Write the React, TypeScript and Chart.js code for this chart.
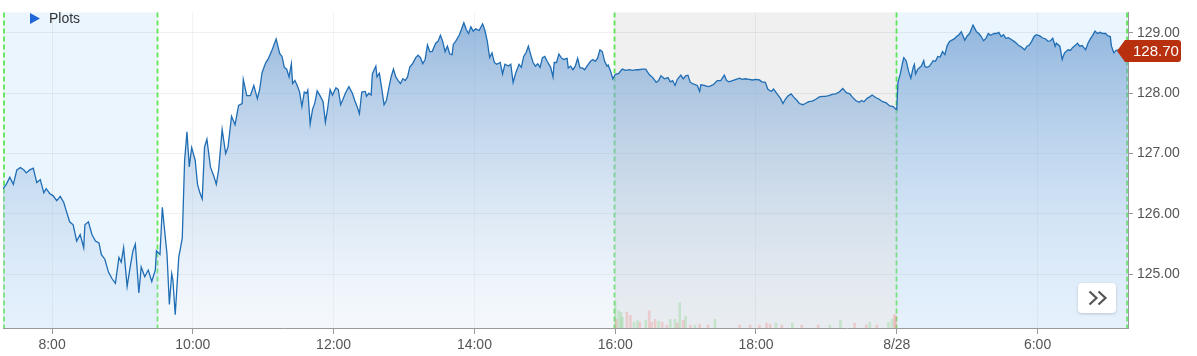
import React, { useEffect, useRef } from "react";
import { Chart, registerables } from "chart.js";

Chart.register(...registerables);

// Time axis in minutes; 8/28 pre-market continues right after 20:00 (1200 = 8/28 4:00)
const minutes = [
  // 8/27 pre-market and open
  438, 441, 444, 447, 450, 453, 456, 458, 461, 464,
  467, 470, 473, 475, 478, 481, 484, 487, 490, 492,
  495, 498, 501, 504, 507, 508, 511, 514, 517, 520,
  522, 525, 528, 531, 534, 537, 539, 541, 544, 547,
  549, 551, 554, 556, 559, 562, 565, 568, 569, 572,
  574, 578, 580, 582, 583, 585, 588, 591, 593, 595,
  597, 599, 602, 604, 606, 608, 610, 612, 615, 618,
  620, 622, 625, 628, 630, 633, 636, 639, 642, 643,
  646, 649, 652, 655, 657, 659, 662, 664, 667, 671,
  674,
  // midday
  676, 678, 680, 682, 684, 685, 687, 689, 691, 693,
  695, 697, 698, 700, 702, 704, 706, 709, 711, 713,
  715, 717, 719, 722, 724, 726, 728, 730, 733, 736,
  738, 740, 742, 744, 747, 748, 750, 752, 753, 756,
  757, 759, 761, 763, 765, 767, 769, 771, 773, 775,
  777, 779, 781, 783, 785, 787, 790, 792, 794, 796,
  798, 800, 802, 804, 807, 809, 811, 813, 815, 817,
  819, 821, 822, 824, 827, 829, 831, 833, 835, 837,
  839, 841, 844, 847, 849, 851, 853, 855, 857, 859,
  862, 864, 866, 869, 871, 873, 875, 878, 880, 882,
  884, 886, 888, 890, 892, 894, 896, 898, 900, 902,
  905, 907, 908, 910, 912, 914,
  // close and after hours
  916, 919, 920, 922, 924, 926, 928, 930, 932, 934,
  936, 939, 941, 943, 945, 947, 949, 951, 953, 954,
  956, 958, 960, 963, 966, 969, 972, 975, 978, 980,
  983, 986, 989, 992, 995, 997, 999, 1002, 1005, 1007,
  1009, 1011, 1013, 1016, 1018, 1020, 1022, 1024, 1027, 1030,
  1032, 1033, 1036, 1039, 1041, 1044, 1047, 1050, 1053, 1055,
  1057, 1060, 1063, 1066, 1068, 1071, 1074, 1077, 1080, 1083,
  1085, 1088, 1090, 1093, 1095, 1098, 1101, 1103, 1105, 1107,
  1110, 1112, 1115, 1117, 1120, 1122, 1125, 1128, 1131, 1134,
  1137, 1139, 1142, 1145, 1148, 1151, 1154, 1157,
  // late after hours and 8/28 pre-market
  1160, 1162, 1165, 1168, 1170, 1172, 1175, 1177, 1179, 1182,
  1185, 1188, 1191, 1194, 1197, 1199, 1200, 1201, 1203, 1205,
  1206, 1208, 1210, 1212, 1214, 1215, 1216, 1218, 1221, 1223,
  1224, 1226, 1228, 1231, 1233, 1235, 1237, 1239, 1241, 1243,
  1245, 1247, 1249, 1251, 1253, 1255, 1258, 1260, 1262, 1264,
  1265, 1268, 1270, 1272, 1274, 1276, 1278, 1280, 1283, 1285,
  1287, 1289, 1291, 1293, 1295, 1297, 1300, 1302, 1304, 1306,
  1309, 1311, 1313, 1315, 1317, 1319, 1322, 1324, 1327, 1329,
  1331, 1333, 1335, 1336, 1339, 1341, 1343, 1346, 1348, 1350,
  1352, 1354, 1356, 1358, 1361, 1363, 1365, 1367, 1369, 1371,
  1373, 1376, 1378, 1380, 1382, 1383, 1385, 1387, 1389, 1392,
  1397,
];

const prices = [
  126.41, 126.49, 126.61, 126.49, 126.73, 126.77, 126.73, 126.68, 126.73, 126.76,
  126.52, 126.57, 126.35, 126.42, 126.34, 126.30, 126.22, 126.29, 126.19, 126.06,
  125.87, 125.82, 125.55, 125.66, 125.44, 125.82, 125.87, 125.66, 125.55, 125.52,
  125.33, 125.25, 125.04, 124.93, 124.85, 125.28, 125.20, 125.44, 124.80, 125.17,
  125.39, 125.50, 124.69, 125.12, 124.96, 125.07, 124.88, 125.07, 125.39, 125.33,
  126.11, 125.33, 124.50, 125.01, 124.91, 124.33, 125.28, 125.60, 126.89, 127.36,
  126.78, 127.10, 126.89, 126.49, 126.35, 126.25, 127.11, 127.24, 126.78, 126.62,
  126.49, 126.73, 127.40, 127.00, 127.11, 127.62, 127.48, 127.80, 127.83, 128.23,
  127.96, 127.96, 128.13, 127.91, 128.07, 128.34, 128.50, 128.56, 128.69, 128.90,
  128.66,

  128.61, 128.43, 128.40, 128.27, 128.49, 128.16, 128.21, 128.13, 128.02, 127.78,
  128.02, 128.00, 128.05, 127.49, 127.73, 127.84, 128.04, 127.94, 127.86, 127.52,
  127.76, 128.06, 127.97, 128.09, 128.06, 127.81, 127.90, 128.00, 128.11, 128.00,
  127.88, 127.78, 127.66, 128.02, 128.03, 127.95, 128.00, 127.97, 128.32, 128.45,
  128.27, 128.33, 128.08, 127.81, 127.88, 128.08, 128.27, 128.40, 128.27, 128.21,
  128.16, 128.24, 128.21, 128.27, 128.44, 128.48, 128.59, 128.63, 128.59, 128.49,
  128.56, 128.80, 128.69, 128.69, 128.83, 128.86, 128.96, 128.86, 128.69, 128.78,
  128.65, 128.64, 128.81, 128.86, 128.96, 129.06, 129.17, 129.06, 128.99, 129.10,
  129.03, 129.07, 129.04, 129.15, 129.04, 128.86, 128.59, 128.67, 128.51, 128.48,
  128.51, 128.32, 128.48, 128.45, 128.48, 128.18, 128.32, 128.48, 128.43, 128.61,
  128.67, 128.78, 128.64, 128.51, 128.45, 128.49, 128.43, 128.59, 128.61, 128.53,
  128.43, 128.27, 128.51, 128.51, 128.65, 128.59,

  128.56, 128.58, 128.42, 128.45, 128.39, 128.45, 128.58, 128.42, 128.42, 128.39,
  128.45, 128.53, 128.56, 128.53, 128.58, 128.72, 128.69, 128.53, 128.45, 128.47,
  128.37, 128.24, 128.31, 128.33, 128.40, 128.38, 128.39, 128.38, 128.39, 128.39,
  128.40, 128.40, 128.31, 128.26, 128.18, 128.21, 128.29, 128.24, 128.26, 128.19,
  128.21, 128.13, 128.23, 128.30, 128.24, 128.29, 128.30, 128.18, 128.15, 128.13,
  128.03, 128.14, 128.13, 128.11, 128.12, 128.15, 128.21, 128.21, 128.30, 128.21,
  128.19, 128.21, 128.23, 128.25, 128.23, 128.24, 128.23, 128.22, 128.23, 128.22,
  128.19, 128.18, 128.07, 128.03, 128.07, 127.99, 127.91, 127.83, 127.90, 127.95,
  127.99, 127.94, 127.88, 127.83, 127.81, 127.83, 127.86, 127.87, 127.90, 127.94,
  127.95, 127.95, 127.96, 127.98, 127.99, 128.02, 128.08, 128.01,

  127.99, 127.94, 127.88, 127.85, 127.88, 127.86, 127.92, 127.94, 127.97, 127.93,
  127.90, 127.86, 127.84, 127.79, 127.78, 127.74, 127.73, 128.18, 128.32, 128.51,
  128.59, 128.54, 128.37, 128.25, 128.43, 128.48, 128.32, 128.40, 128.45, 128.54,
  128.44, 128.43, 128.45, 128.54, 128.53, 128.61, 128.60, 128.69, 128.64, 128.79,
  128.86, 128.88, 128.90, 128.94, 128.97, 129.02, 128.88, 128.95, 128.99, 129.08,
  129.13, 129.02, 128.99, 128.94, 128.87, 128.91, 128.99, 128.96, 128.99, 128.99,
  129.01, 128.94, 128.97, 128.91, 128.92, 128.90, 128.86, 128.83, 128.79, 128.77,
  128.72, 128.78, 128.80, 128.86, 128.94, 128.97, 128.95, 128.92, 128.90, 128.86,
  128.87, 128.91, 128.78, 128.83, 128.78, 128.56, 128.67, 128.72, 128.71, 128.76,
  128.79, 128.83, 128.78, 128.79, 128.72, 128.83, 128.90, 128.96, 129.03, 128.99,
  129.01, 128.99, 128.99, 128.95, 128.94, 128.78, 128.67, 128.71, 128.72, 128.74,
  128.70,
];

// Extended-hours volume (hundreds of shares)
const volMinutes = [
  960, 961, 963, 965, 966, 970, 973, 976, 979, 981,
  986, 989, 991, 994, 997, 1000, 1004, 1007, 1011, 1013,
  1015, 1018, 1020, 1024, 1028, 1032, 1039, 1045, 1066, 1075,
  1083, 1089, 1092, 1097, 1102, 1111, 1119, 1133, 1143, 1152,
  1164, 1174, 1177, 1183, 1193, 1196, 1198, 1199,
];
const volumes = [
  26, 9, 18, 16, 11, 16, 13, 6, 8, 6,
  8, 18, 6, 9, 7, 6, 3, 9, 9, 5,
  26, 8, 12, 3, 3, 4, 3, 9, 3, 3,
  3, 5, 4, 5, 3, 5, 3, 3, 3, 8,
  5, 3, 6, 3, 6, 9, 14, 12,
];
const volUp = [
  true, false, true, true, true, false, false, true, true, false,
  true, false, false, false, true, false, false, true, true, false,
  true, false, true, false, true, false, false, true, false, false,
  false, false, false, true, false, true, false, false, true, true,
  false, false, true, false, true, true, false, false,
];

const xTickMinutes = [480, 600, 720, 840, 960, 1080, 1200, 1320];
const xTickLabels = ["8:00", "10:00", "12:00", "14:00", "16:00", "18:00", "8/28", "6:00"];
const yTickValues = [125, 126, 127, 128, 129];
const sessionBreaks = [570, 960, 1200]; // 9:30 open, 16:00 close, 8/28 pre-market
const xRange = [438.2, 1397.1];
const yRange = [124.11, 129.34];
const volumeMax = 324;
const lastPrice = 128.7;
const legendLabel = "Plots";

const FONT = "'Liberation Sans', Arial, Helvetica, sans-serif";

export default function App() {
  const ref = useRef<HTMLCanvasElement>(null);

  useEffect(() => {
    document.body.style.margin = "0";
    const canvas = ref.current;
    if (!canvas) return;

    const decor = {
      id: "decor",
      beforeDraw(chart: any) {
        const { ctx, chartArea: a, scales } = chart;
        const x = scales.x;
        ctx.save();
        const band = (from: number, to: number, color: string) => {
          const x0 = Math.max(a.left, x.getPixelForValue(from));
          const x1 = Math.min(a.right, x.getPixelForValue(to));
          ctx.fillStyle = color;
          ctx.fillRect(x0, a.top, x1 - x0, a.bottom - a.top);
        };
        band(xRange[0], sessionBreaks[0], "#ebf5fe");
        band(sessionBreaks[1], sessionBreaks[2], "#f0f0f0");
        band(sessionBreaks[2], xRange[1], "#ebf5fe");
        ctx.restore();
      },
      beforeDatasetsDraw(chart: any) {
        const { ctx, chartArea: a, scales } = chart;
        const x = scales.x;
        ctx.save();
        ctx.strokeStyle = "#5ee655";
        ctx.lineWidth = 1.8;
        ctx.setLineDash([5, 3]);
        const xs = [a.left + 1, ...sessionBreaks.map((m) => Math.round(x.getPixelForValue(m)) - 0.5), a.right - 1];
        xs.forEach((px) => {
          ctx.beginPath();
          ctx.moveTo(px, a.top);
          ctx.lineTo(px, a.bottom);
          ctx.stroke();
        });
        ctx.restore();
      },
      afterDraw(chart: any) {
        const { ctx, chartArea: a, scales } = chart;
        const y = scales.y;
        ctx.save();
        // price tag
        const py = y.getPixelForValue(lastPrice);
        const tip = a.right - 11;
        const left = a.right - 3;
        const right = a.right + 53;
        const h = 22;
        const r = 3;
        ctx.fillStyle = "#b8300e";
        ctx.beginPath();
        ctx.moveTo(tip, py);
        ctx.lineTo(left, py - h / 2);
        ctx.lineTo(right - r, py - h / 2);
        ctx.quadraticCurveTo(right, py - h / 2, right, py - h / 2 + r);
        ctx.lineTo(right, py + h / 2 - r);
        ctx.quadraticCurveTo(right, py + h / 2, right - r, py + h / 2);
        ctx.lineTo(left, py + h / 2);
        ctx.closePath();
        ctx.fill();
        ctx.fillStyle = "#ffffff";
        ctx.font = `15px ${FONT}`;
        ctx.textBaseline = "middle";
        ctx.textAlign = "left";
        ctx.fillText(lastPrice.toFixed(2), a.right + 5, py + 1);

        // legend "Plots"
        ctx.fillStyle = "#1f66d6";
        ctx.beginPath();
        ctx.moveTo(30, 13);
        ctx.lineTo(30, 24);
        ctx.lineTo(40, 18.5);
        ctx.closePath();
        ctx.fill();
        ctx.fillStyle = "#333";
        ctx.font = `14px ${FONT}`;
        ctx.fillText(legendLabel, 49, 19);

        // expand button
        const bx = a.right - 50;
        const byy = a.bottom - 45;
        const bw = 38;
        const bh = 30;
        ctx.shadowColor = "rgba(0,0,0,0.18)";
        ctx.shadowBlur = 3;
        ctx.shadowOffsetY = 1;
        ctx.fillStyle = "#ffffff";
        ctx.beginPath();
        (ctx as any).roundRect(bx, byy, bw, bh, 4);
        ctx.fill();
        ctx.shadowColor = "transparent";
        ctx.strokeStyle = "#555";
        ctx.lineWidth = 2.2;
        ctx.setLineDash([]);
        [0, 9].forEach((dx) => {
          ctx.beginPath();
          ctx.moveTo(bx + 11.5 + dx, byy + 8.5);
          ctx.lineTo(bx + 18.5 + dx, byy + 15);
          ctx.lineTo(bx + 11.5 + dx, byy + 21.5);
          ctx.stroke();
        });
        ctx.restore();
      },
    };

    const chart = new Chart(canvas, {
      type: "line",
      data: {
        datasets: [
          {
            type: "line",
            data: minutes.map((m, i) => ({ x: m, y: prices[i] })),
            borderColor: "#1f6db4",
            borderWidth: 1.3,
            pointRadius: 0,
            tension: 0,
            fill: "start",
            order: 1,
            yAxisID: "y",
            backgroundColor: (c: any) => {
              const area = c.chart.chartArea;
              if (!area) return "rgba(0,0,0,0)";
              const g = c.chart.ctx.createLinearGradient(0, area.top, 0, area.bottom);
              g.addColorStop(0, "rgba(100,150,205,0.7)");
              g.addColorStop(1, "rgba(205,224,244,0.2)");
              return g;
            },
          } as any,
          {
            type: "bar",
            data: volMinutes.map((m, i) => ({ x: m, y: volumes[i] })),
            backgroundColor: volUp.map((u) => (u ? "rgba(120,205,120,0.3)" : "rgba(240,130,130,0.3)")),
            barThickness: 2,
            order: 0,
            yAxisID: "yv",
          } as any,
        ],
      },
      options: {
        animation: false,
        responsive: false,
        devicePixelRatio: 1,
        layout: { padding: { left: 3, top: 4, right: 0, bottom: 0 } },
        plugins: { legend: { display: false }, tooltip: { enabled: false } },
        scales: {
          x: {
            type: "linear",
            min: xRange[0],
            max: xRange[1],
            offset: false,
            afterBuildTicks: (s: any) => {
              s.ticks = xTickMinutes.map((v) => ({ value: v }));
            },
            afterFit: (s: any) => {
              s.height = 28;
            },
            ticks: {
              autoSkip: false,
              maxRotation: 0,
              padding: 3,
              color: "#555",
              font: { family: FONT, size: 14 },
              callback: (v: any) => xTickLabels[xTickMinutes.indexOf(Number(v))] ?? "",
            },
            grid: { offset: false, color: "rgba(0,0,0,0.05)", tickColor: "#999", tickLength: 6, drawTicks: true },
            border: { display: true, color: "#9a9a9a", width: 1 },
          },
          y: {
            position: "right",
            min: yRange[0],
            max: yRange[1],
            afterBuildTicks: (s: any) => {
              s.ticks = yTickValues.map((v) => ({ value: v }));
            },
            afterFit: (s: any) => {
              s.width = 69;
            },
            ticks: {
              padding: 4,
              color: "#555",
              font: { family: FONT, size: 14 },
              callback: (v: any) => Number(v).toFixed(2),
            },
            grid: { color: "rgba(0,0,0,0.06)", tickColor: "#999", tickLength: 5, drawTicks: true },
            border: { display: true, color: "#9a9a9a", width: 1 },
          },
          yv: {
            display: false,
            min: 0,
            max: volumeMax,
          },
        },
      } as any,
      plugins: [decor],
    });

    return () => chart.destroy();
  }, []);

  return <canvas ref={ref} width={1197} height={356} style={{ display: "block" }} />;
}
